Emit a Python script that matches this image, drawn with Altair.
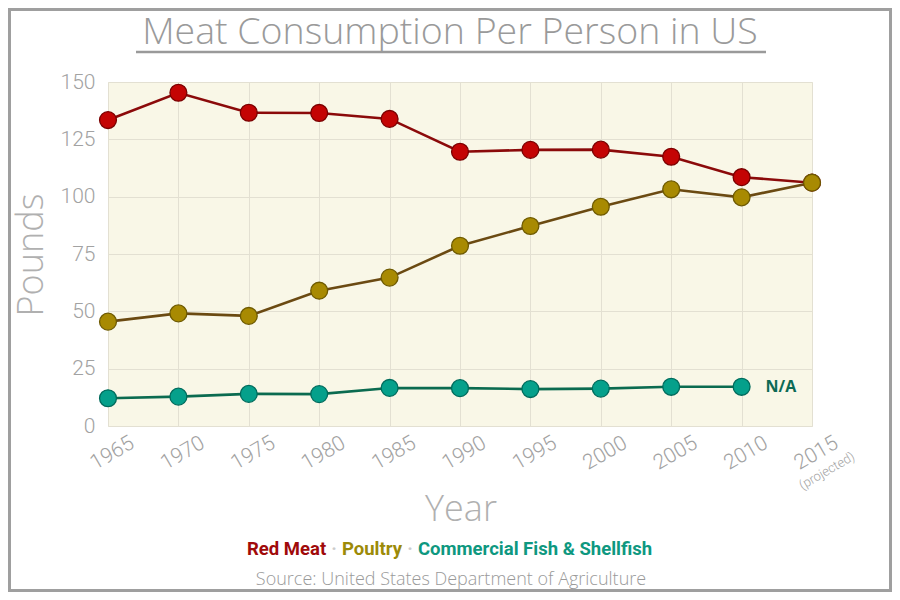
import altair as alt
import pandas as pd

years = [1965, 1970, 1975, 1980, 1985, 1990, 1995, 2000, 2005, 2010, 2015]
series_names = ["Red Meat", "Poultry", "Commercial Fish & Shellfish"]
red_meat = [133.4, 145.3, 136.6, 136.5, 133.9, 119.6, 120.4, 120.5, 117.4, 108.5, 106.1]
poultry = [45.5, 49.1, 48.0, 59.0, 64.7, 78.6, 87.2, 95.6, 103.2, 99.7, 106.1]
fish = [12.1, 12.8, 14.0, 13.9, 16.6, 16.5, 16.1, 16.3, 17.1, 17.1, None]
y_ticks = [0, 25, 50, 75, 100, 125, 150]

line_colors = ["#8B0A0A", "#6B4A12", "#0B6B50"]
fill_colors = ["#C40404", "#A88A02", "#05A08B"]
stroke_colors = ["#7A0000", "#6E5A00", "#006B5C"]

rows = []
for name, vals in zip(series_names, [red_meat, poultry, fish]):
    for yr, v in zip(years, vals):
        if v is not None:
            rows.append({"Year": yr, "Pounds": v, "Series": name})
df = pd.DataFrame(rows)

W, H = 704, 344
PL, PT, PR, PB = 100, 74, 80, 166
FONT = "Roboto, 'Helvetica Neue', Helvetica, Arial, sans-serif"
WFONT = "'Open Sans', Roboto, Helvetica, Arial, sans-serif"
GRAY = "#a2a2a2"

x_enc = alt.X("Year:Q",
              scale=alt.Scale(domain=[1965, 2015], nice=False, zero=False),
              axis=alt.Axis(values=years, format="d", title=None, labelAngle=330,
                            labelAlign="center", labelBaseline="middle",
                            labelPadding=27, labelOffset=4, labelFontSize=21,
                            labelFont=FONT, labelFontWeight=300, labelColor=GRAY,
                            ticks=False, domain=False, grid=True,
                            gridColor="#e3e0d2", gridWidth=1))
y_enc = alt.Y("Pounds:Q",
              scale=alt.Scale(domain=[0, 150], nice=False),
              axis=alt.Axis(values=y_ticks, title=None, labelFontSize=21,
                            labelFont=FONT, labelFontWeight=300, labelColor=GRAY,
                            labelPadding=13, ticks=False, domain=False, grid=True,
                            gridColor="#e3e0d2", gridWidth=1))

base = alt.Chart(df)

lines = base.mark_line(strokeWidth=2.6).encode(
    x=x_enc, y=y_enc,
    stroke=alt.Stroke("Series:N", scale=alt.Scale(domain=series_names, range=line_colors), legend=None),
)

points = base.mark_point(filled=True, size=285, opacity=1, strokeWidth=1.3, strokeOpacity=1).encode(
    x=x_enc, y=y_enc,
    fill=alt.Fill("Series:N", scale=alt.Scale(domain=series_names, range=fill_colors), legend=None),
    stroke=alt.Stroke("Series:N", scale=alt.Scale(domain=series_names, range=stroke_colors), legend=None),
)

one = alt.InlineData(values=[{}])


def txt(text, x, y, size, color, weight=300, align="center", angle=0, font=FONT, baseline="alphabetic"):
    kw = dict(text=text, fontSize=size, color=color, fontWeight=weight, align=align,
              font=font, baseline=baseline)
    if angle:
        kw["angle"] = angle
    return alt.Chart(one).mark_text(**kw).encode(x=alt.value(x), y=alt.value(y))


title = txt("Meat Consumption Per Person in US", 342, -38, 37.5, "#9a9a9a", font=WFONT)
underline = alt.Chart(one).mark_rule(color="#9a9a9a", strokeWidth=2.5).encode(
    x=alt.value(28), x2=alt.value(658), y=alt.value(-30))
y_title = txt("Pounds", -76, 173, 36, "#b0b0b0", angle=270, baseline="middle", font=WFONT)
x_title = txt("Year", 353, 428, 36, "#b0b0b0", baseline="middle", font=WFONT)
projected = txt("(projected)", 719, 389, 13, GRAY, angle=330, baseline="middle")

LFONT = "Roboto, 'Liberation Sans', Arial, sans-serif"
LS = 18.5
leg1 = txt("Red Meat", 139, 473, LS, "#A00A0A", weight="bold", align="left", font=LFONT)
dot1 = txt("·", 226, 473, LS, "#cccccc", weight="bold", align="center", font=LFONT)
leg2 = txt("Poultry", 234, 473, LS, "#9C8A08", weight="bold", align="left", font=LFONT)
dot2 = txt("·", 302, 473, LS, "#cccccc", weight="bold", align="center", font=LFONT)
leg3 = txt("Commercial Fish & Shellfish", 310, 473, LS, "#0E9880", weight="bold", align="left", font=LFONT)
source = txt("Source: United States Department of Agriculture", 343, 503, 18, "#9a9a9a", font=WFONT)

na_df = pd.DataFrame({"Year": [years[9]], "Pounds": [fish[9]], "label": ["N/A"]})
na_text = alt.Chart(na_df).mark_text(
    align="left", baseline="middle", dx=24, fontSize=16, fontWeight="bold",
    color="#0D6A55", font="'Open Sans', Roboto, sans-serif"
).encode(x=alt.X("Year:Q"), y=alt.Y("Pounds:Q"), text="label:N")

frame = alt.Chart(one).mark_rect(filled=False, stroke="#9f9f9f", strokeWidth=3).encode(
    x=alt.value(-PL + 1.5), x2=alt.value(W + PR - 1.5),
    y=alt.value(-PT + 1.5), y2=alt.value(H + PB - 1.5))

chart = alt.layer(
    lines, points, na_text, title, underline, y_title, x_title, projected,
    leg1, dot1, leg2, dot2, leg3, source, frame
).resolve_scale(
    stroke="independent", fill="independent"
).properties(
    width=W, height=H,
    autosize=alt.AutoSizeParams(type="none"),
    padding={"left": PL, "top": PT, "right": PR, "bottom": PB},
    background="white",
).configure_view(
    fill="#F9F7E7", stroke="#ebe8da", strokeWidth=1
)

chart.save("out.html", embed_options={"renderer": "svg", "actions": False})
